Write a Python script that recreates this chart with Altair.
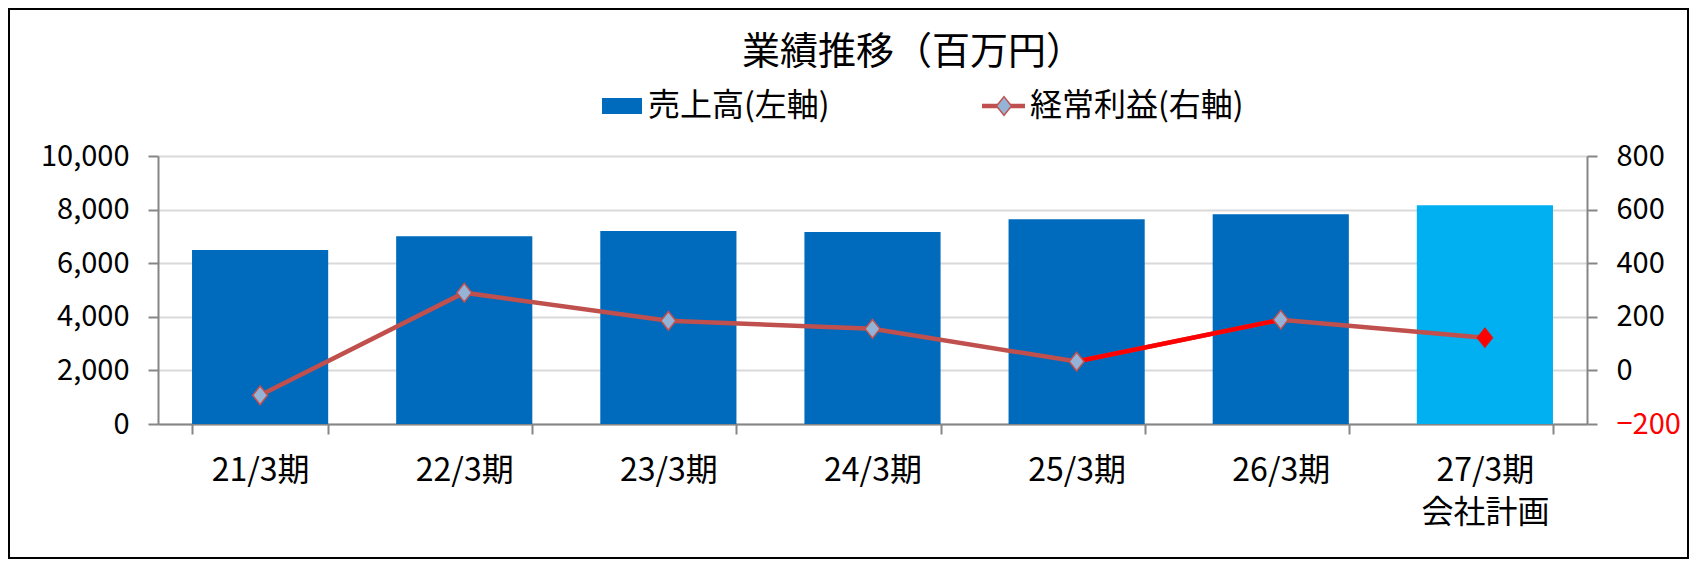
import altair as alt
import pandas as pd

# ---- data ----
periods = ["21/3期", "22/3期", "23/3期", "24/3期", "25/3期", "26/3期", "27/3期\n会社計画"]
sales = [6490, 7010, 7200, 7160, 7640, 7830, 8160]          # 売上高 (left axis)
profit = [-93, 290, 185, 155, 33, 189, 122]                 # 経常利益 (right axis)
bar_colors = ["#006ABD"] * 6 + ["#00B0F0"]
marker_fill = ["#95B3D7"] * 6 + ["#FF0000"]
marker_stroke = ["#C0504D"] * 6 + ["#E8110F"]
highlight_periods = ["25/3期", "26/3期"]                     # red segment
legend_labels = ["売上高(左軸)", "経常利益(右軸)"]
title_text = ["業績推移（百万円）"]
left_ticks = [0, 2000, 4000, 6000, 8000, 10000]
right_ticks = [-200, 0, 200, 400, 600, 800]

df = pd.DataFrame({
    "period": periods,
    "sales": sales,
    "profit": profit,
    "bar_color": bar_colors,
    "mfill": marker_fill,
    "mstroke": marker_stroke,
})

JP = "Noto Sans CJK JP"
GRAY = "#868686"
W, H = 1429, 268

x_enc = alt.X(
    "period:N", sort=periods,
    scale=alt.Scale(paddingInner=0.333, paddingOuter=0.1667),
    axis=alt.Axis(
        title=None, labelAngle=0, tickBand="extent",
        labelExpr="split(datum.label, '\\n')",
        labelFont=JP, labelFontSize=32, labelLineHeight=42, labelColor="#000000",
        labelPadding=21, tickSize=10, tickWidth=2, tickColor=GRAY,
        domainColor=GRAY, domainWidth=2, grid=False,
    ),
)

y_left = alt.Y(
    "sales:Q", scale=alt.Scale(domain=[0, 10000], nice=False),
    axis=alt.Axis(
        title=None, values=left_ticks, format=",d",
        labelFont=JP, labelFontSize=29, labelColor="#000000", labelPadding=19,
        tickSize=10, tickWidth=2, tickColor=GRAY, domainColor=GRAY, domainWidth=2,
        grid=True, gridColor="#D9D9D9", gridWidth=2,
    ),
)

right_axis = alt.Axis(
    title=None, orient="right", values=right_ticks, format=",d",
    labelFont=JP, labelFontSize=29, labelPadding=19,
    labelColor=alt.condition("datum.value < 0", alt.value("#FF0000"), alt.value("#000000")),
    tickSize=10, tickWidth=2, tickColor=GRAY, domainColor=GRAY, domainWidth=2,
    grid=False,
)
y_right = alt.Y("profit:Q", scale=alt.Scale(domain=[-200, 800], nice=False), axis=right_axis)

bars = alt.Chart(df).mark_bar().encode(
    x=x_enc, y=y_left, color=alt.Color("bar_color:N", scale=None)
)

line = alt.Chart(df).mark_line(color="#C0504D", strokeWidth=4.5).encode(x=x_enc, y=y_right)
red_seg = alt.Chart(df).transform_filter(
    alt.FieldOneOfPredicate(field="period", oneOf=highlight_periods)
).mark_line(color="#FF0000", strokeWidth=4.5).encode(x=x_enc, y=y_right)

DIAMOND = "M0,-1.25L1,0L0,1.25L-1,0Z"
points = alt.Chart(df).mark_point(shape=DIAMOND, filled=True, size=225, strokeWidth=1.5, opacity=1).encode(
    x=x_enc, y=y_right,
    fill=alt.Fill("mfill:N", scale=None),
    stroke=alt.Stroke("mstroke:N", scale=None),
)

profit_layer = alt.layer(line, red_seg, points)
main = alt.layer(bars, profit_layer).resolve_scale(y="independent")

# ---- title and legend (drawn above the plot) ----
title_df = pd.DataFrame({"t": title_text})
title_mark = alt.Chart(title_df).mark_text(
    align="center", baseline="middle", font=JP, fontSize=38, color="#000000"
).encode(x=alt.value(755), y=alt.value(-103), text="t:N")

leg1 = pd.DataFrame({"t": [legend_labels[0]]})
leg2 = pd.DataFrame({"t": [legend_labels[1]]})
leg_rect = alt.Chart(leg1).mark_rect(color="#006ABD").encode(
    x=alt.value(444), x2=alt.value(484), y=alt.value(-58), y2=alt.value(-42)
)
leg_text1 = alt.Chart(leg1).mark_text(
    align="left", baseline="middle", font=JP, fontSize=32, color="#000000"
).encode(x=alt.value(490), y=alt.value(-50), text="t:N")
leg_line = alt.Chart(leg2).mark_rule(color="#C0504D", strokeWidth=4.5).encode(
    x=alt.value(824), x2=alt.value(867), y=alt.value(-50)
)
leg_pt = alt.Chart(leg2).mark_point(
    shape=DIAMOND, filled=True, size=225, fill="#95B3D7", stroke="#C0504D", strokeWidth=1.5, opacity=1
).encode(x=alt.value(846), y=alt.value(-50))
leg_text2 = alt.Chart(leg2).mark_text(
    align="left", baseline="middle", font=JP, fontSize=32, color="#000000"
).encode(x=alt.value(872), y=alt.value(-50), text="t:N")

# outer frame
frame = alt.Chart(leg1).mark_rect(fill=None, stroke="#000000", strokeWidth=2).encode(
    x=alt.value(-149), x2=alt.value(W + 101), y=alt.value(-147), y2=alt.value(H + 134)
)

chart = alt.layer(
    main, title_mark, leg_rect, leg_text1, leg_line, leg_pt, leg_text2, frame
).properties(
    width=W, height=H,
    autosize=alt.AutoSizeParams(type="none"),
    padding={"left": 150, "top": 148, "right": 102, "bottom": 135},
    background="#FFFFFF",
).configure_view(stroke=None)

chart.save("out.html", embed_options={"renderer": "svg", "actions": False})
